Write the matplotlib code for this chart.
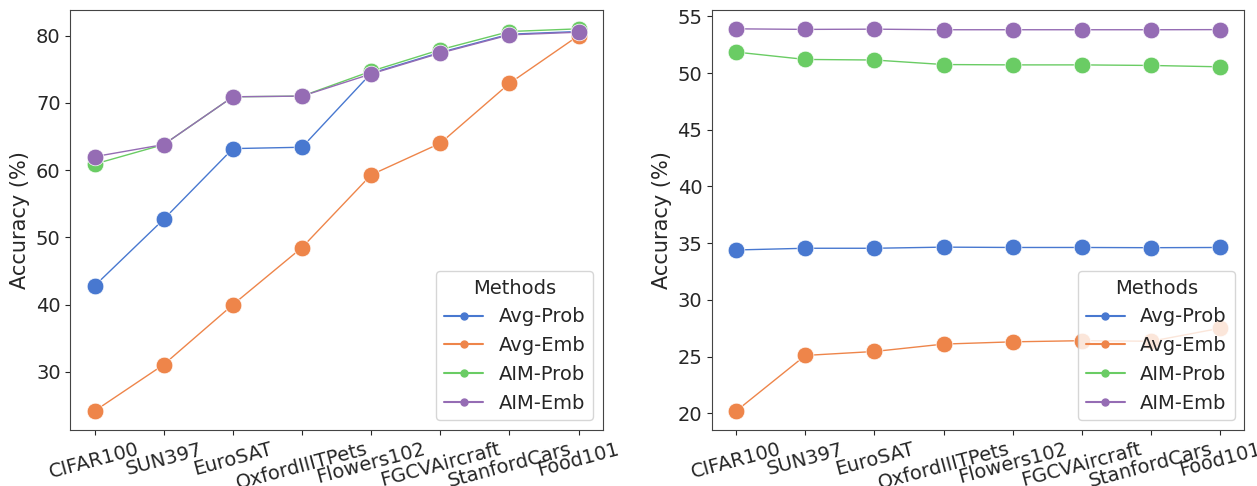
import matplotlib
matplotlib.use("Agg")
import matplotlib.pyplot as plt
from matplotlib.lines import Line2D
import seaborn as sns

sns.set_style("ticks")

datasets = ["CIFAR100", "SUN397", "EuroSAT", "OxfordIIITPets", "Flowers102",
            "FGCVAircraft", "StanfordCars", "Food101"]
methods = ["Avg-Prob", "Avg-Emb", "AIM-Prob", "AIM-Emb"]

# left panel
left_avg_prob = [42.8, 52.7, 63.2, 63.4, 74.4, 77.5, 80.2, 80.6]
left_avg_emb = [24.2, 31.1, 40.0, 48.5, 59.3, 64.0, 72.9, 80.0]
left_aim_prob = [60.9, 63.8, 70.9, 71.0, 74.7, 77.9, 80.6, 81.0]
left_aim_emb = [62.0, 63.8, 70.9, 71.0, 74.3, 77.4, 80.1, 80.5]

# right panel
right_avg_prob = [34.4, 34.55, 34.55, 34.65, 34.62, 34.62, 34.6, 34.62]
right_avg_emb = [20.2, 25.1, 25.45, 26.1, 26.3, 26.4, 26.35, 27.5]
right_aim_prob = [51.85, 51.2, 51.15, 50.75, 50.72, 50.72, 50.67, 50.55]
right_aim_emb = [53.9, 53.85, 53.87, 53.82, 53.82, 53.82, 53.82, 53.83]

pal = sns.color_palette("muted")
colors = [pal[0], pal[1], pal[2], pal[4]]

fig, axes = plt.subplots(1, 2, figsize=(12.57, 4.86), dpi=100)
panels = [[left_avg_prob, left_avg_emb, left_aim_prob, left_aim_emb],
          [right_avg_prob, right_avg_emb, right_aim_prob, right_aim_emb]]

for ax, series in zip(axes, panels):
    x = range(len(datasets))
    for name, vals, c in zip(methods, series, colors):
        ax.plot(x, vals, color=c, linewidth=1, marker="o", markersize=12,
                markeredgecolor="white", markeredgewidth=0.5, label=name)
    ax.set_xticks(list(x))
    ax.set_xticklabels(datasets, rotation=15, fontsize=14)
    ax.tick_params(axis="y", labelsize=14)
    ax.set_ylabel("Accuracy (%)", fontsize=15)
    for s in ax.spines.values():
        s.set_color("#444444")
    handles = [Line2D([0], [0], color=c, linewidth=1.5, marker="o", markersize=5)
               for c in colors]
    leg = ax.legend(handles, methods, title="Methods", loc="lower right",
                    fontsize=14, title_fontsize=14)

plt.subplots_adjust(left=0.056, right=0.99, top=0.98, bottom=0.115, wspace=0.205)
plt.savefig("out.png")
